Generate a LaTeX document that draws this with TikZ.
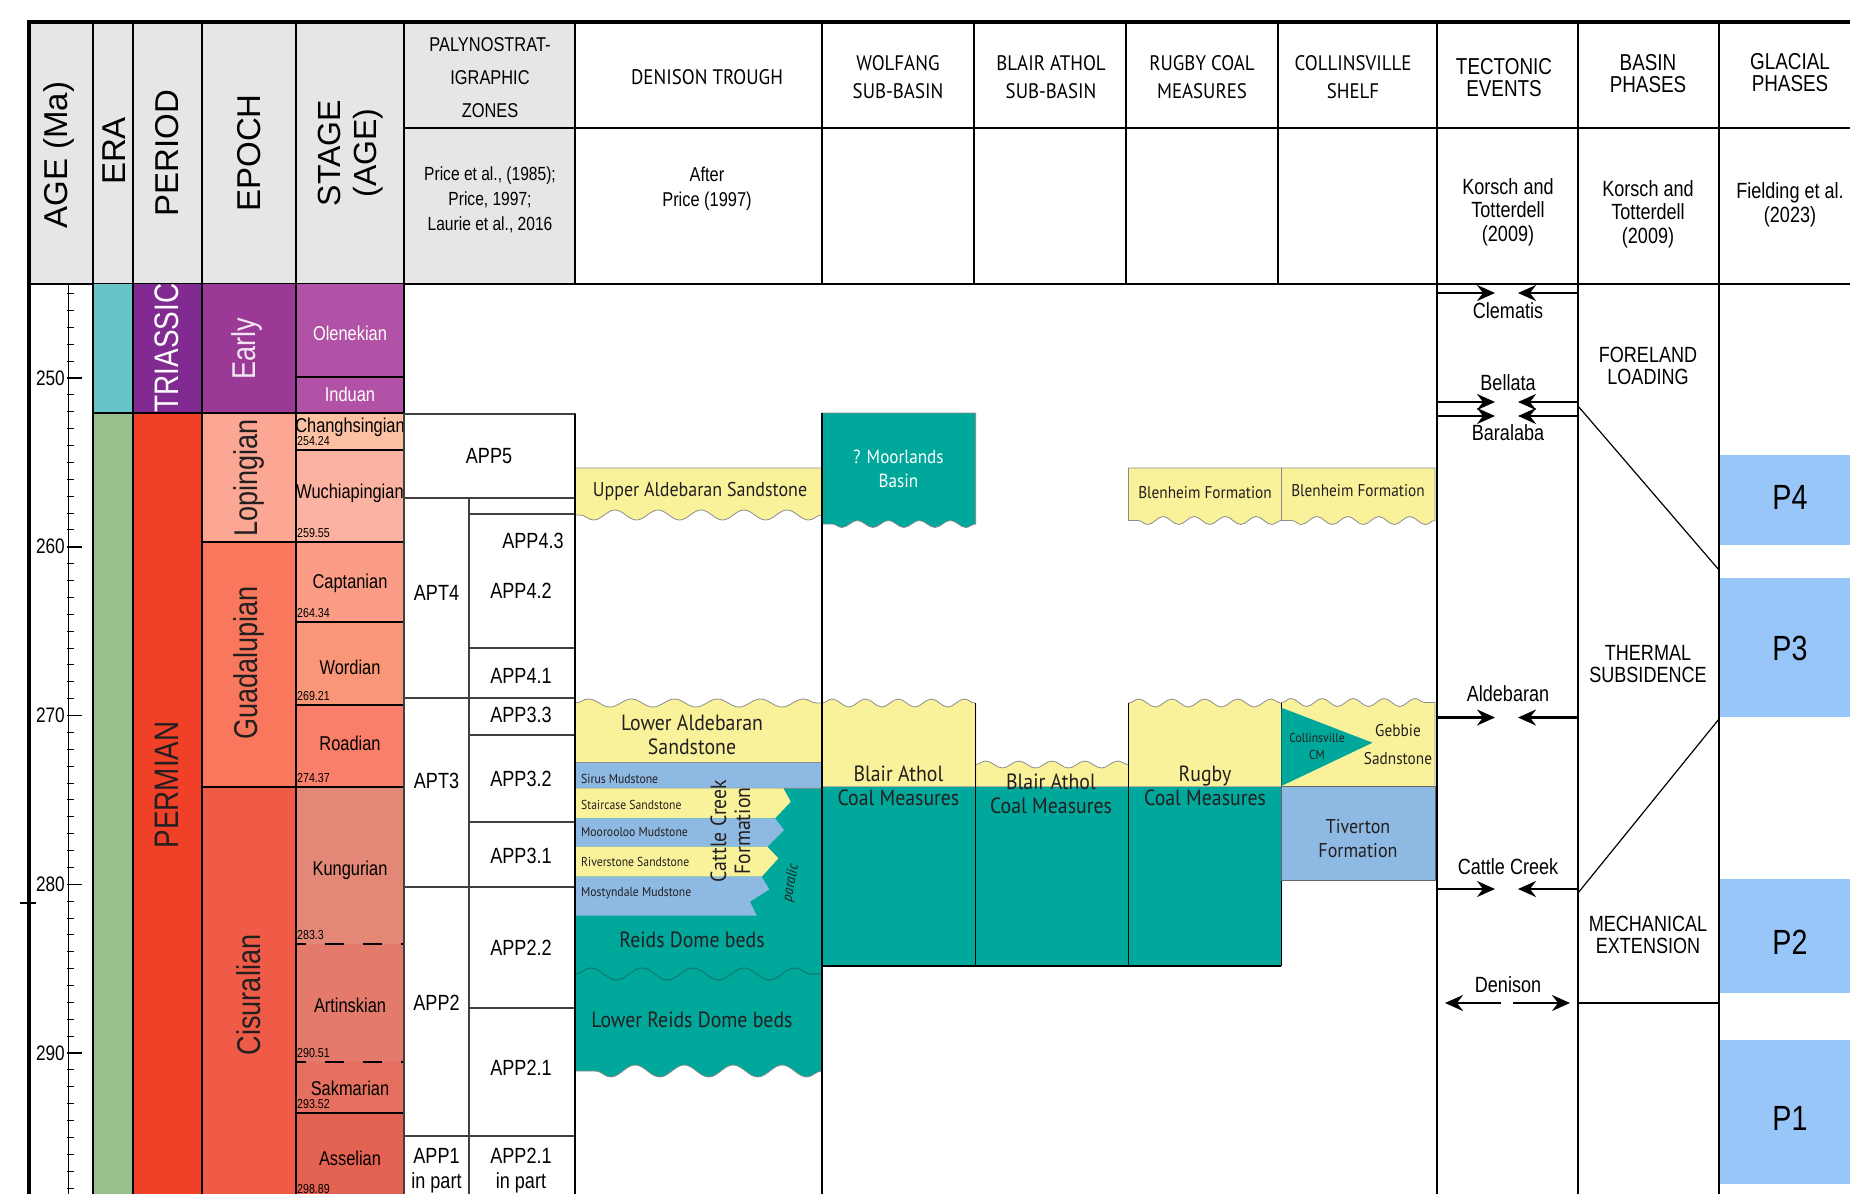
\documentclass[tikz,border=0pt]{standalone}
\usepackage{fontspec}
\setmainfont{Liberation Sans}
\newfontfamily\narrowfont[FakeStretch=0.82]{Liberation Sans}
\newfontfamily\myriadfont[FakeStretch=0.9]{PT Sans}
\usetikzlibrary{arrows.meta,positioning,decorations.pathmorphing}

\newcommand{\setfs}[2]{\fontsize{#1}{#2}\selectfont}
\newcommand{\agey}[1]{378+16.875*(#1-250)}

\definecolor{hdrgray}{HTML}{E6E6E6}
\definecolor{eratri}{HTML}{67C4C9}
\definecolor{eraper}{HTML}{99C08B}
\definecolor{pertri}{HTML}{812B92}
\definecolor{perper}{HTML}{F04028}
\definecolor{epoearly}{HTML}{9A3996}
\definecolor{epolop}{HTML}{FBA794}
\definecolor{epoguad}{HTML}{F8775D}
\definecolor{epocis}{HTML}{EF5B47}
\definecolor{stgolen}{HTML}{B152A6}
\definecolor{stgchan}{HTML}{FCC0A2}
\definecolor{stgwuch}{HTML}{FBB2A0}
\definecolor{stgcapt}{HTML}{FA9C86}
\definecolor{stgword}{HTML}{F99677}
\definecolor{stgroad}{HTML}{F97F6A}
\definecolor{stgkung}{HTML}{E38777}
\definecolor{stgarti}{HTML}{E47A6B}
\definecolor{stgsakm}{HTML}{E67060}
\definecolor{stgasse}{HTML}{E46251}
\definecolor{sandyel}{HTML}{F9F29B}
\definecolor{mudblue}{HTML}{8DB9E3}
\definecolor{coalteal}{HTML}{00A79B}
\definecolor{darkteal}{HTML}{0D7F76}
\definecolor{glacblue}{HTML}{99C6F8}
\definecolor{inkdark}{HTML}{231F20}

\begin{document}
\begin{tikzpicture}[
    x=1pt, y=-1pt,
    cell/.style={draw=black, line width=1.2pt},
    pbox/.style={draw=black!75, line width=1.3pt},
    rim/.style={draw=black!45, line width=0.8pt},
    hdr/.style={font=\setfs{33}{36}, inner sep=0pt, align=center},
    nar/.style={font=\narrowfont\setfs{22}{22}, inner sep=0pt, align=center},
    myr/.style={font=\myriadfont\setfs{21}{28}, inner sep=0pt, align=center},
    stg/.style={font=\narrowfont\setfs{20}{22}, inner sep=0pt},
    agelab/.style={font=\narrowfont\setfs{13}{13}, inner sep=0pt},
    epo/.style={font=\narrowfont\setfs{33}{33}, inner sep=0pt, rotate=90},
    fm/.style={font=\myriadfont\setfs{22}{24}, text=inkdark, inner sep=0pt, align=center},
    fmsmall/.style={font=\myriadfont\setfs{13}{15}, text=inkdark, inner sep=0pt},
    conv/.style={line width=2.5pt, -{Stealth[length=18pt,width=16pt,inset=6pt]}},
    wave/.style={decoration={snake, segment length=#1, amplitude=4pt}},
    wave/.default=33pt
]
\useasboundingbox (0,0) rectangle (1850,1194);
\clip (0,0) rectangle (1850,1194);

% header
\fill[hdrgray] (29,22) rectangle (575,284);
\draw[line width=1.5pt] (29,284) -- (1850,284);
\draw[line width=1.5pt] (404,128) -- (1850,128);
\foreach \x in {93,133,202,296,404,575,822,974,1126,1278,1437,1578}
  \draw[line width=1.5pt] (\x,22) -- (\x,284);
\draw[line width=2.5pt] (1719,22) -- (1719,284);

\node[hdr, rotate=90] (hage) at (59,155) {AGE (Ma)};
\node[hdr, rotate=90] (hera) at (114,151) {ERA};
\node[hdr, rotate=90] (hper) at (167,153) {PERIOD};
\node[hdr, rotate=90] (hepo) at (249,153) {EPOCH};
\node[hdr, rotate=90, font=\setfs{32}{36}] (hstg) at (351,153) {STAGE\\(AGE)};
\node[nar, font=\narrowfont\setfs{20}{33}] (hpal) at (490,78) {PALYNOSTRAT-\\IGRAPHIC\\ZONES};
\node[nar, font=\narrowfont\setfs{19}{25}] (hpalref) at (490,200) {Price et al., (1985);\\Price, 1997;\\Laurie et al., 2016};
\node[myr] (hden) at (707,77) {DENISON TROUGH};
\node[nar, font=\narrowfont\setfs{20}{25}] (hdenref) at (707,189) {After\\Price (1997)};
\node[myr] (hwol) at (898,77) {WOLFANG\\SUB-BASIN};
\node[myr] (hbla) at (1051,77) {BLAIR ATHOL\\SUB-BASIN};
\node[myr] (hrug) at (1202,77) {RUGBY COAL\\MEASURES};
\node[myr] (hcol) at (1353,77) {COLLINSVILLE\\SHELF};
\node[nar, font=\narrowfont\setfs{23}{22}] (htec) at (1504,78) {TECTONIC\\EVENTS};
\node[nar, font=\narrowfont\setfs{23}{22}] (hbas) at (1648,74) {BASIN\\PHASES};
\node[nar, font=\narrowfont\setfs{23}{22}] (hgla) at (1790,73) {GLACIAL\\PHASES};
\node[nar, font=\narrowfont\setfs{22}{23.5}] (htecref) at (1508,212) {Korsch and\\Totterdell\\(2009)};
\node[nar, font=\narrowfont\setfs{22}{23.5}] (hbasref) at (1648,214) {Korsch and\\Totterdell\\(2009)};
\node[nar, font=\narrowfont\setfs{22}{23.5}] (hglaref) at (1790,205) {Fielding et al.\\(2023)};

% time scale
\fill[eratri] (93,284) rectangle (133,413);
\fill[eraper] (93,413) rectangle (133,1200);
\fill[pertri] (133,284) rectangle (202,413);
\fill[perper] (133,413) rectangle (202,1200);
\foreach \ya/\yb/\col in {284/413/epoearly, 413/542/epolop, 542/787/epoguad, 787/1200/epocis}
  \fill[\col] (202,\ya) rectangle (296,\yb);
\foreach \ya/\yb/\col in {284/377/stgolen, 377/413/stgolen, 413/450/stgchan, 450/542/stgwuch,
    542/622/stgcapt, 622/705/stgword, 705/787/stgroad, 787/944/stgkung,
    944/1062/stgarti, 1062/1113/stgsakm, 1113/1200/stgasse}
  \fill[\col] (296,\ya) rectangle (404,\yb);
\draw[cell] (93,413) -- (296,413);
\draw[cell] (202,542) -- (296,542);
\draw[cell] (202,787) -- (296,787);
\foreach \yy in {377,413,450,542,622,705,787,1113}
  \draw[cell] (296,\yy) -- (404,\yy);
\foreach \yy in {944,1062}
  \draw[cell, dash pattern=on 19pt off 19pt, dash phase=9.5pt] (296,\yy) -- (404,\yy);
\foreach \x in {93,133,202,296,404}
  \draw[cell] (\x,284) -- (\x,1200);

\node[epo, font=\narrowfont\setfs{34}{34}, text=white] (tria) at (167,348) {TRIASSIC};
\node[epo, font=\narrowfont\setfs{34}{34}, text=inkdark] (perm) at (167,785) {PERMIAN};
\node[epo, text=white!88!pertri] (early) at (247,349) {Early};
\node[epo, text=inkdark] (lopi) at (249,478) {Lopingian};
\node[epo, text=inkdark] (guad) at (249,663) {Guadalupian};
\node[epo, text=inkdark] (cisu) at (249,995) {Cisuralian};

\node[stg, text=white] (olen) at (350,333) {Olenekian};
\node[stg, text=white] (indu) at (350,394) {Induan};
\node[stg] (chan) at (350,427) {Changhsingian};
\node[stg] (wuch) at (350,493) {Wuchiapingian};
\node[stg] (capt) at (350,583) {Captanian};
\node[stg] (word) at (350,667) {Wordian};
\node[stg] (road) at (350,743) {Roadian};
\node[stg] (kung) at (350,870) {Kungurian};
\node[stg] (arti) at (350,1005) {Artinskian};
\node[stg] (sakm) at (350,1088) {Sakmarian};
\node[stg] (asse) at (350,1158) {Asselian};
\foreach \yy/\lab [count=\i] in {445.5/254.24, 537.5/259.55, 617.5/264.34, 700.5/269.21, 782.5/274.37,
    939.5/283.3, 1057.5/290.51, 1108.5/293.52, 1193/298.89}
  \node[agelab, anchor=base west] (age\i) at (297,\yy) {\lab};

% age axis
\draw[line width=1pt] (68.5,284) -- (68.5,1200);
\foreach \a in {245,...,298}
  \draw[line width=1pt] (67,{\agey{\a}}) -- (74,{\agey{\a}});
\foreach \a in {250,260,...,290} {
  \draw[line width=1.5pt] (67,{\agey{\a}}) -- (81.5,{\agey{\a}});
  \node[nar, font=\narrowfont\setfs{21}{21}, anchor=east] (tick\a) at (65,{\agey{\a}}) {\a};
}
\draw[line width=1.5pt] (20,903) -- (36,903);

% palynostratigraphic zones
\foreach \xa/\ya/\xb/\yb in {404/414/575/498, 469/498/575/514, 469/514/575/648, 404/498/469/698,
    469/648/575/698, 469/698/575/735, 469/735/575/822, 404/698/469/887, 469/822/575/887,
    404/887/469/1136, 469/887/575/1008, 469/1008/575/1136, 404/1136/469/1210, 469/1136/575/1210}
  \draw[pbox] (\xa,\ya) rectangle (\xb,\yb);
\node[nar] (app5) at (489,456) {APP5};
\node[nar] (app43) at (533,541) {APP4.3};
\node[nar] (app42) at (521,591) {APP4.2};
\node[nar] (apt4) at (436.5,593) {APT4};
\node[nar] (app41) at (521,676) {APP4.1};
\node[nar] (app33) at (521,715) {APP3.3};
\node[nar] (app32) at (521,779) {APP3.2};
\node[nar] (apt3) at (436.5,781) {APT3};
\node[nar] (app31) at (521,856) {APP3.1};
\node[nar] (app2) at (436.5,1003) {APP2};
\node[nar] (app22) at (521,948) {APP2.2};
\node[nar] (app21) at (521,1068) {APP2.1};
\node[nar, font=\narrowfont\setfs{22}{25}] (app1p) at (436.5,1171) {APP1\\in part};
\node[nar, font=\narrowfont\setfs{22}{25}] (app21p) at (521,1171) {APP2.1\\in part};

% Denison Trough
\filldraw[sandyel, rim] (575,468) -- (822,468) -- (822,515)
  decorate[wave=43pt, decoration={amplitude=5pt}] {-- (575,515)} -- cycle;
\filldraw[sandyel, rim] (575,762.7) -- (575,703)
  decorate[wave=43pt] {-- (822,703)} -- (822,762.7) -- cycle;
\filldraw[mudblue, rim] (575,762.7) rectangle (822,788.3);
\filldraw[coalteal, rim] (575,788.3) -- (822,788.3) -- (822,1071)
  decorate[wave=49pt, decoration={amplitude=6pt}] {-- (575,1071)} -- cycle;
\fill[sandyel] (575,788.3) -- (783.3,788.3) -- (790.7,801.7) -- (775,818.3) -- (575,818.3) -- cycle;
\fill[mudblue] (575,818.3) -- (775,818.3) -- (784,830) -- (767.3,846.7) -- (575,846.7) -- cycle;
\fill[sandyel] (575,846.7) -- (767.3,846.7) -- (778.3,858.3) -- (761.7,876.7) -- (575,876.7) -- cycle;
\fill[mudblue] (575,876.7) -- (761.7,876.7) -- (769.3,889.3) -- (750,901.7) -- (756.7,915.7) -- (575,915.7) -- cycle;
\draw[darkteal, line width=1.2pt, decorate, wave=51pt, decoration={amplitude=6pt}] (575,974) -- (822,974);

\node[fm, font=\myriadfont\setfs{20}{22}] (uald) at (700,491) {Upper Aldebaran Sandstone};
\node[fm] (lald) at (692,734.5) {Lower Aldebaran\\Sandstone};
\node[fmsmall, anchor=west] (sirus) at (581,779.3) {Sirus Mudstone};
\node[fmsmall, anchor=west] (stair) at (581,805) {Staircase Sandstone};
\node[fmsmall, anchor=west] (moor) at (581,831.7) {Moorooloo Mudstone};
\node[fmsmall, anchor=west] (river) at (581,861.7) {Riverstone Sandstone};
\node[fmsmall, anchor=west] (mosty) at (581,893.3) {Mostyndale Mudstone};
\node[fm, rotate=90] (ccf) at (730.5,831) {Cattle Creek\\Formation};
\node[fm, font=\myriadfont\itshape\setfs{15}{15}, rotate=80] (paral) at (791,883) {paralic};
\node[fm] (reids) at (692,940) {Reids Dome beds};
\node[fm] (lreids) at (692,1020) {Lower Reids Dome beds};

% Wolfang, Blair Athol, Rugby, Collinsville
\filldraw[coalteal, rim] (822,413) -- (975.6,413) -- (975.6,524)
  decorate[wave=31pt, decoration={amplitude=3.5pt}] {-- (822,524)} -- cycle;
\node[fm, font=\myriadfont\setfs{19}{23.5}, text=white] (moorl) at (898.4,469) {? Moorlands\\Basin};
\filldraw[sandyel, rim] (1128.5,468) -- (1281.4,468) -- (1281.4,520.5)
  decorate[wave=31pt] {-- (1128.5,520.5)} -- cycle;
\filldraw[sandyel, rim] (1281.4,468) -- (1435,468) -- (1435,520.5)
  decorate[wave=31pt] {-- (1281.4,520.5)} -- cycle;
\node[fm, font=\myriadfont\setfs{17}{19}] (blen1) at (1205,493) {Blenheim Formation};
\node[fm, font=\myriadfont\setfs{17}{19}] (blen2) at (1358,491) {Blenheim Formation};

\filldraw[sandyel, rim] (822,786.7) -- (822,703) decorate[wave] {-- (975.6,703)} -- (975.6,786.7) -- cycle;
\filldraw[sandyel, rim] (975.6,786.7) -- (975.6,764.5)
  decorate[wave, decoration={amplitude=3.5pt}] {-- (1128.5,764.5)} -- (1128.5,786.7) -- cycle;
\filldraw[sandyel, rim] (1128.5,786.7) -- (1128.5,703) decorate[wave] {-- (1281.4,703)} -- (1281.4,786.7) -- cycle;
\filldraw[sandyel, rim] (1281.4,786.7) -- (1281.4,702.5) decorate[wave=31pt] {-- (1435,702.5)} -- (1435,786.7) -- cycle;
\fill[coalteal] (822,786.7) rectangle (1281.4,966);
\draw[cell] (822,966) -- (1281.4,966);
\foreach \x in {975.6,1128.5,1281.4}
  \draw[cell] (\x,703) -- (\x,966);
\fill[coalteal] (1281.4,707.7) -- (1372.5,742.7) -- (1281.4,786) -- cycle;
\filldraw[mudblue, draw=black!60, line width=1pt] (1281.4,786.7) rectangle (1435,880);

\node[fm] (wba) at (898.4,786) {Blair Athol\\Coal Measures};
\node[fm] (bba) at (1051,793.8) {Blair Athol\\Coal Measures};
\node[fm] (rug) at (1205,786) {Rugby\\Coal Measures};
\node[fmsmall, align=center, font=\myriadfont\setfs{13}{16.5}] (colcm) at (1317,746.5) {Collinsville\\CM};
\node[fm, font=\myriadfont\setfs{17}{28}] (gebb) at (1398,745) {Gebbie\\Sadnstone};
\node[fm, font=\myriadfont\setfs{20}{23.5}] (tive) at (1358,838.5) {Tiverton\\Formation};

% columns on the right
\draw[cell, line width=1.5pt] (575,414) -- (575,1200);
\draw[cell, line width=1.5pt] (822,413) -- (822,1200);
\foreach \x in {1437,1578,1719}
  \draw[cell, line width=1.5pt] (\x,284) -- (\x,1200);

% tectonic events
\foreach \yy/\nm in {293/cle, 402/bel, 416/bar, 717.5/ald, 889/cat} {
  \coordinate (\nm L) at (1437,\yy);
  \coordinate (\nm Lt) at (1495,\yy);
  \coordinate (\nm R) at (1578,\yy);
  \coordinate (\nm Rt) at (1518,\yy);
  \draw[conv] (\nm L) -- (\nm Lt);
  \draw[conv] (\nm R) -- (\nm Rt);
}
\coordinate (denL) at (1501,1003);
\coordinate (denLt) at (1445,1003);
\coordinate (denR) at (1513,1003);
\coordinate (denRt) at (1570,1003);
\draw[conv] (denL) -- (denLt);
\draw[conv] (denR) -- (denRt);
\node[nar] (clem) at (1508,311) {Clematis};
\node[nar] (bell) at (1508,383) {Bellata};
\node[nar] (bara) at (1508,433) {Baralaba};
\node[nar] (alde) at (1508,694) {Aldebaran};
\node[nar] (catt) at (1508,867) {Cattle Creek};
\node[nar] (deni) at (1508,985) {Denison};

% basin phases
\coordinate (bp1) at (1578,406);
\coordinate (bp2) at (1719,570);
\coordinate (bp3) at (1719,719);
\coordinate (bp4) at (1578,893);
\coordinate (bp5) at (1578,1003);
\coordinate (bp6) at (1719,1003);
\draw[line width=1.2pt] (bp1) -- (bp2);
\draw[line width=1.2pt] (bp3) -- (bp4);
\draw[line width=1.2pt] (bp5) -- (bp6);
\node[nar] (fore) at (1648,366) {FORELAND\\LOADING};
\node[nar] (ther) at (1648,664) {THERMAL\\SUBSIDENCE};
\node[nar] (mech) at (1648,935) {MECHANICAL\\EXTENSION};

% glacial phases
\fill[glacblue] (1720,455) rectangle (1850,545);
\fill[glacblue] (1720,578) rectangle (1850,717);
\fill[glacblue] (1720,879) rectangle (1850,993);
\fill[glacblue] (1720,1040) rectangle (1850,1184);
\node[nar, font=\narrowfont\setfs{35}{35}] (p4) at (1790,497) {P4};
\node[nar, font=\narrowfont\setfs{35}{35}] (p3) at (1790,648) {P3};
\node[nar, font=\narrowfont\setfs{35}{35}] (p2) at (1790,942) {P2};
\node[nar, font=\narrowfont\setfs{35}{35}] (p1) at (1790,1118) {P1};

% frame
\draw[line width=4pt] (29,1200) -- (29,22) -- (1850,22);
\end{tikzpicture}
\end{document}
